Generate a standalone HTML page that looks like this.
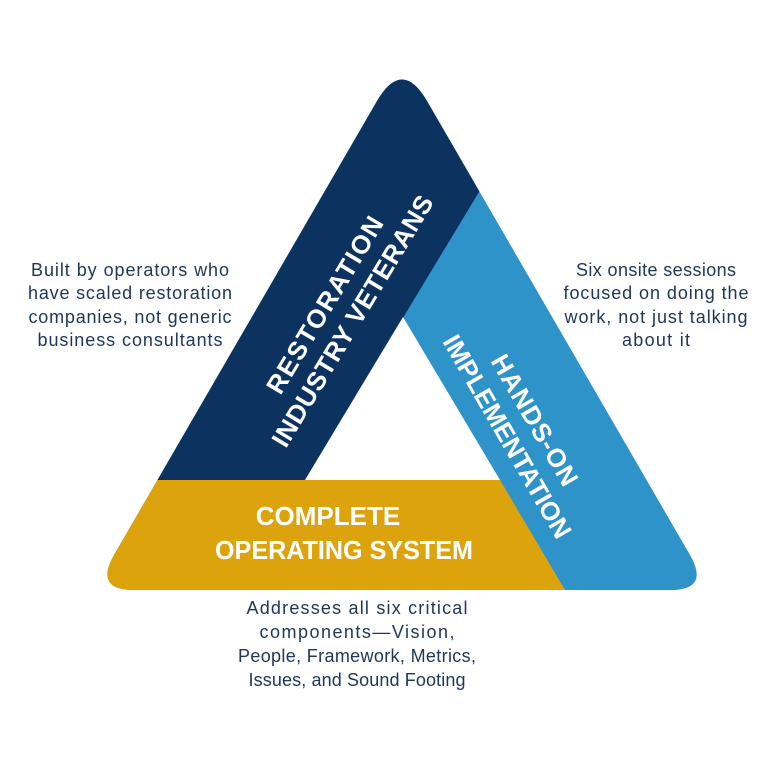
<!DOCTYPE html>
<html><head><meta charset="utf-8"><style>
html,body{margin:0;padding:0;background:#fff;}
svg{display:block;}
text{font-family:"Liberation Sans",sans-serif;}
</style></head><body>
<svg width="768" height="768" viewBox="0 0 768 768" xmlns="http://www.w3.org/2000/svg">
<defs>
<clipPath id="tri"><path d="M377,101 Q402,58 427,101 L690,555 Q710,590 670,590 L134,590 Q94,590 114,555 Z"/></clipPath>
</defs>
<g clip-path="url(#tri)">
<rect x="0" y="0" width="768" height="768" fill="#2e93c8"/>
<polygon points="0,0 595,0 305,480 0,480" fill="#0c3360"/>
<polygon points="0,480 500,480 630,700 0,700" fill="#dca30c"/>
<polygon points="305,480 403,317 500,480" fill="#fff"/>
</g>
<g fill="#fff" font-weight="bold" font-size="26" text-anchor="middle">
<g transform="translate(338,312) rotate(-59)">
<text x="0" y="-6" letter-spacing="1.5">RESTORATION</text>
<text x="0" y="26" letter-spacing="0.5">INDUSTRY VETERANS</text>
</g>
<g transform="translate(522,428) rotate(60)">
<text x="0" y="-6" letter-spacing="1">HANDS-ON</text>
<text x="0" y="26">IMPLEMENTATION</text>
</g>
<text x="328" y="525">COMPLETE</text>
<text x="344" y="559" textLength="258" lengthAdjust="spacingAndGlyphs">OPERATING SYSTEM</text>
</g>
<g fill="#1e3658" font-size="18" text-anchor="middle" lengthAdjust="spacingAndGlyphs">
<text x="130" y="276" textLength="198">Built by operators who</text>
<text x="130" y="299" textLength="204">have scaled restoration</text>
<text x="130" y="323" textLength="203">companies, not generic</text>
<text x="130" y="346" textLength="185">business consultants</text>
<text x="656" y="276" textLength="160">Six onsite sessions</text>
<text x="656" y="299" textLength="185">focused on doing the</text>
<text x="656" y="323" textLength="183">work, not just talking</text>
<text x="656" y="346" textLength="68">about it</text>
<text x="357" y="614" textLength="221">Addresses all six critical</text>
<text x="357" y="638" textLength="195">components—Vision,</text>
<text x="357" y="662" textLength="238">People, Framework, Metrics,</text>
<text x="357" y="686" textLength="217">Issues, and Sound Footing</text>
</g>
</svg>
</body></html>
